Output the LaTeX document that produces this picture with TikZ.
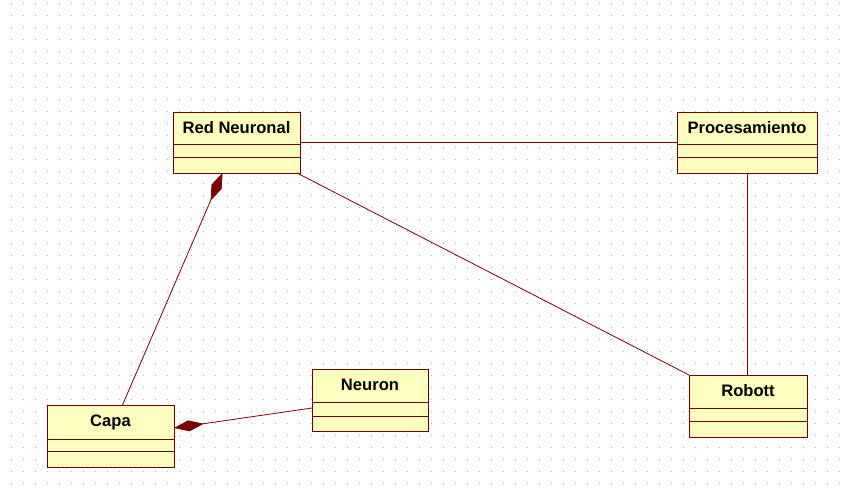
\documentclass[tikz,border=0pt]{standalone}
\usepackage{fontspec}
\setmainfont{Liberation Sans}
\usetikzlibrary{arrows.meta,calc}
\definecolor{umlfill}{HTML}{FFFFC0}
\definecolor{umlborder}{HTML}{6B0000}
\definecolor{umlline}{HTML}{7A0000}
\definecolor{griddot}{HTML}{B4B4B4}
\newcommand\umlclass[8]{%
  \node[classbox, minimum width=#4pt, minimum height={(#5+#6+#7)*1pt}] (#1) at (#2,#3) {};
  \draw[divider] ($(#1.north west)+(0,#5)$) -- ++(#4,0);
  \draw[divider] ($(#1.north west)+(0,#5+#6)$) -- ++(#4,0);
  \node[classname] (#1-name) at ($(#1.north)+(0,21.5)$) {#8};
}
\begin{document}
\begin{tikzpicture}[x=1pt,y=-1pt,
  classbox/.style={draw=umlborder, fill=umlfill, line width=0.8pt, rectangle, inner sep=0pt, outer sep=0pt, anchor=north west},
  divider/.style={draw=umlborder, line width=0.8pt},
  classname/.style={anchor=base, font=\fontsize{16.6}{18}\selectfont\bfseries, text=black, inner sep=0pt},
  assoc/.style={draw=umlline, line width=0.8pt},
  compo/.style={assoc, {Diamond[length=30pt,width=11pt,fill=umlline]}-}
]
\fill[white] (0,0) rectangle (845,489);
\useasboundingbox (0,0) rectangle (845,489);
\foreach \i in {0,...,69}{
  \foreach \j in {0,...,40}{
    \fill[griddot] (11+12*\i,3+12*\j) rectangle ++(1,1);
  }
}
\umlclass{rn}{173}{112}{127}{32}{13}{16}{Red Neuronal}
\umlclass{pr}{677}{112}{140}{32}{13}{16}{Procesamiento}
\umlclass{capa}{47}{405}{127}{34}{12}{16}{Capa}
\umlclass{neu}{312}{369}{116}{33}{14}{15}{Neuron}
\umlclass{rob}{689}{375}{118}{33}{13}{16}{Robott}

\draw[assoc] (rn.east) -- (pr.west);
\draw[assoc] ($(rn.south east)+(-3,0)$) -- (rob.north west);
\draw[assoc] (pr.south) -- (pr.south |- rob.north);
\draw[compo] ($(rn.south)+(-14,0)$) -- ($(capa.north)+(12,0)$);
\draw[compo] ($(capa.east)+(0,-8)$) -- ($(neu.west)+(0,8)$);
\end{tikzpicture}
\end{document}
